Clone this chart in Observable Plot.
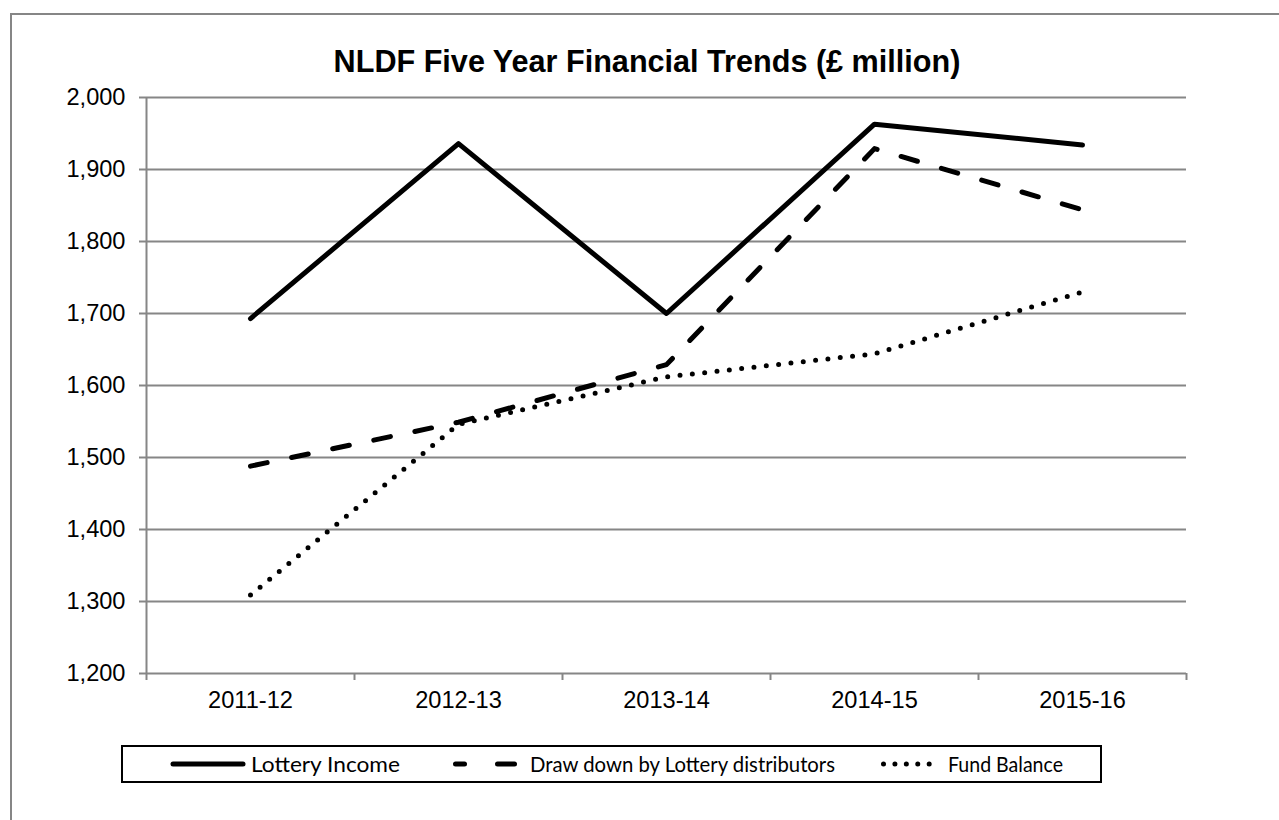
<!DOCTYPE html>
<html>
<head>
<meta charset="utf-8">
<script src="https://cdn.jsdelivr.net/npm/d3@7"></script>
<script src="https://cdn.jsdelivr.net/npm/@observablehq/plot@0.6"></script>
<style>
  html, body { margin: 0; padding: 0; background: #fff; overflow: hidden; width: 1279px; height: 820px; }
  #frame { position: absolute; left: 10px; top: 13px; width: 2000px; height: 2000px; border-left: 2px solid #868686; border-top: 2px solid #868686; }
  #title { position: absolute; left: 0; width: 1294px; top: 44px; line-height: 30px; text-align: center;
           font: bold 30.6px "Liberation Sans", Arial, sans-serif; color: #000; }
  #chart { position: absolute; left: 0; top: 0; }
  #legend { position: absolute; left: 121px; top: 745px; width: 981px; height: 38px; border: 2px solid #000; box-sizing: border-box; background: #fff; }
  #legend svg { position: absolute; left: -2px; top: -2px; overflow: visible; }
</style>
</head>
<body>
<div id="frame"></div>
<div id="chart"></div>
<div id="title">NLDF Five Year Financial Trends (£ million)</div>
<div id="legend"></div>
<script>
const years = ["2011-12", "2012-13", "2013-14", "2014-15", "2015-16"];
const lotteryIncome = [1693, 1936, 1700, 1963, 1934];
const drawDown = [1488, 1549, 1629, 1929, 1844];
const fundBalance = [1309, 1546, 1612, 1644, 1730];
const yTicks = [1200, 1300, 1400, 1500, 1600, 1700, 1800, 1900, 2000];
const seriesNames = ["Lottery Income", "Draw down by Lottery distributors", "Fund Balance"];

const seriesValues = [lotteryIncome, drawDown, fundBalance];
const dashes = [null, "17,25", "0,12.4"];
const rows = seriesValues.map((vals, s) => vals.map((v, i) => ({i, v, s: seriesNames[s]})));
const boundaries = d3.range(years.length + 1).map(k => k - 0.5);

const grey = "#868686";
const chart = Plot.plot({
  width: 1279,
  height: 720,
  marginLeft: 146,
  marginRight: 93,
  marginTop: 97,
  marginBottom: 47,
  x: {type: "linear", domain: [-0.5, years.length - 0.5]},
  y: {domain: [yTicks[0], yTicks[yTicks.length - 1]]},
  style: {fontFamily: '"Liberation Sans", Arial, sans-serif', fontSize: "23.6px", color: "#000", background: "transparent"},
  marks: [
    Plot.gridY(yTicks.slice(1), {stroke: grey, strokeOpacity: 1, strokeWidth: 2}),
    Plot.axisY({ticks: yTicks, tickSize: 7, tickPadding: 14, tickFormat: d3.format(","), stroke: grey, strokeWidth: 2, fill: "#000", label: null}),
    Plot.ruleX([-0.5], {stroke: grey, strokeWidth: 2}),
    Plot.ruleY([yTicks[0]], {stroke: grey, strokeWidth: 2}),
    Plot.axisX({ticks: boundaries, tickSize: 7, tickFormat: () => "", stroke: grey, strokeWidth: 2, label: null}),
    Plot.axisX({ticks: d3.range(years.length), tickSize: 0, tickPadding: 18, tickFormat: i => years[i], fill: "#000", label: null}),
    ...rows.map((data, s) => Plot.line(data, {
      x: "i", y: "v", stroke: "#000", strokeWidth: 5,
      strokeDasharray: dashes[s], strokeLinecap: "round", strokeLinejoin: "round"
    }))
  ]
});
document.getElementById("chart").appendChild(chart);

// Legend
const L = {x: 121, y: 745};
const legendItems = [
  {name: seriesNames[0], segs: [[173, 243]], dash: null, tx: 251, w: 149},
  {name: seriesNames[1], segs: [[455.5, 464.5], [497.5, 514.5]], dash: null, tx: 530, w: 305},
  {name: seriesNames[2], segs: [[883.5, 940.6]], dash: "0,11.42", tx: 948, w: 115}
];
const lsvg = d3.select("#legend").append("svg").attr("width", 981).attr("height", 38);
legendItems.forEach(it => {
  it.segs.forEach(([a, b]) => {
    lsvg.append("line")
      .attr("x1", a - L.x).attr("x2", b - L.x)
      .attr("y1", 764 - L.y).attr("y2", 764 - L.y)
      .attr("stroke", "#000").attr("stroke-width", 5).attr("stroke-linecap", "round")
      .attr("stroke-dasharray", it.dash);
  });
  lsvg.append("text")
    .attr("x", it.tx - L.x).attr("y", 772 - L.y)
    .attr("font-family", "Lato, 'Open Sans', sans-serif").attr("font-size", 21)
    .attr("textLength", it.w).attr("lengthAdjust", "spacingAndGlyphs")
    .attr("fill", "#000")
    .text(it.name);
});
</script>
</body>
</html>
